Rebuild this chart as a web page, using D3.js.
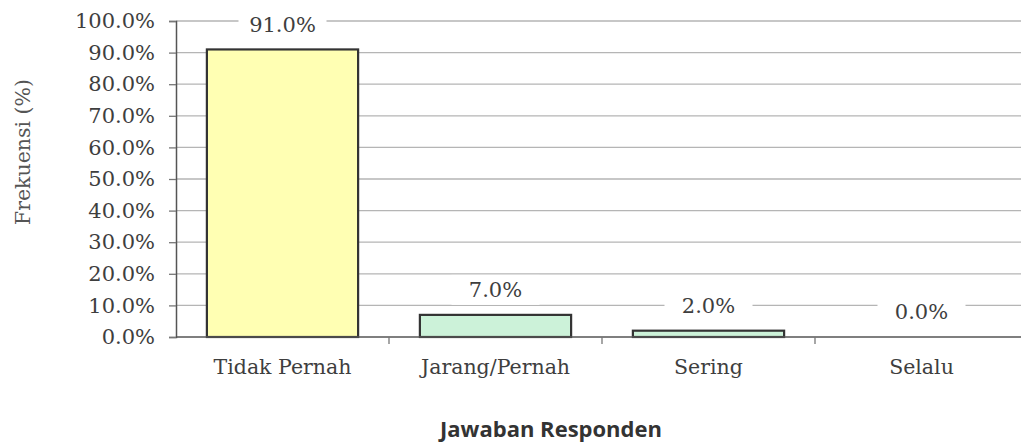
<!DOCTYPE html>
<html>
<head>
<meta charset="utf-8">
<script src="https://cdn.jsdelivr.net/npm/d3@7"></script>
<style>
  html, body { margin: 0; padding: 0; background: #fff; }
  svg { display: block; }
</style>
</head>
<body>
<svg id="chart" width="1021" height="446"></svg>
<script>
const categories = ["Tidak Pernah", "Jarang/Pernah", "Sering", "Selalu"];
const values = [91.0, 7.0, 2.0, 0.0];
const barColors = ["#ffffb3", "#ccf2d9", "#ccf2d9", "#ccf2d9"];
const yTicks = [0, 10, 20, 30, 40, 50, 60, 70, 80, 90, 100];
const yTitle = "Frekuensi (%)";
const xTitle = "Jawaban Responden";

(function () {
const svg = d3.select("#chart");
const pLeft = 176, pRight = 1028, pTop = 21, pBottom = 337;

const x = d3.scaleBand().domain(categories).range([pLeft, pRight])
  .paddingInner(0.29).paddingOuter(0.145);
const y = d3.scaleLinear().domain([0, 100]).range([pBottom, pTop]);

const serif = "'DejaVu Serif', 'Liberation Serif', serif";

// gridlines
svg.append("g").selectAll("line").data(yTicks.filter(d => d > 0)).join("line")
  .attr("x1", pLeft).attr("x2", pRight)
  .attr("y1", d => y(d)).attr("y2", d => y(d))
  .attr("stroke", "#b5b5b5").attr("stroke-width", 1.3);

// y axis
const yAxis = svg.append("g").attr("transform", `translate(${pLeft},0)`)
  .call(d3.axisLeft(y).tickValues(yTicks).tickSize(7).tickPadding(14)
    .tickFormat(d => d.toFixed(1) + "%"));
yAxis.select(".domain").attr("stroke", "#555").attr("stroke-width", 1.5);
yAxis.selectAll(".tick line").attr("stroke", "#777").attr("stroke-width", 1.3);
yAxis.selectAll("text").attr("font-family", serif).attr("font-size", 21)
  .attr("fill", "#3e3e3e");

// bars
svg.append("g").selectAll("rect").data(categories).join("rect")
  .attr("x", d => x(d))
  .attr("y", (d, i) => y(values[i]))
  .attr("width", x.bandwidth())
  .attr("height", (d, i) => pBottom - y(values[i]))
  .attr("fill", (d, i) => barColors[i])
  .attr("stroke", (d, i) => values[i] > 0 ? "#333" : "none")
  .attr("stroke-width", 2.2);

// x axis
const xAxis = svg.append("g").attr("transform", `translate(0,${pBottom})`)
  .call(d3.axisBottom(x).tickSize(0).tickPadding(22));
xAxis.select(".domain").remove();
xAxis.selectAll("text").attr("font-family", serif).attr("font-size", 20.5)
  .attr("fill", "#3e3e3e");
svg.append("line").attr("x1", pLeft).attr("x2", pRight)
  .attr("y1", pBottom).attr("y2", pBottom)
  .attr("stroke", "#555").attr("stroke-width", 1.5);
// category boundary ticks
const step = x.step();
const bounds = categories.slice(1).map(c => x(c) - step * x.paddingInner() / 2);
svg.append("g").selectAll("line").data(bounds).join("line")
  .attr("x1", d => d).attr("x2", d => d)
  .attr("y1", pBottom).attr("y2", pBottom + 7)
  .attr("stroke", "#777").attr("stroke-width", 1.3);

// value labels with white background
const lbl = svg.append("g").selectAll("g").data(categories).join("g")
  .attr("transform", (d, i) => `translate(${x(d) + x.bandwidth() / 2},${y(values[i]) - 25})`);
lbl.append("rect")
  .attr("x", -44).attr("y", -15).attr("width", 88).attr("height", 30)
  .attr("fill", "#fff");
lbl.append("text")
  .attr("text-anchor", "middle").attr("dy", "0.35em")
  .attr("font-family", serif).attr("font-size", 21).attr("fill", "#3e3e3e")
  .text((d, i) => values[i].toFixed(1) + "%");

// titles
svg.append("text")
  .attr("transform", "translate(23,152) rotate(-90)")
  .attr("text-anchor", "middle").attr("dy", "0.35em")
  .attr("font-family", serif).attr("font-size", 20.5).attr("fill", "#555")
  .text(yTitle);
svg.append("text")
  .attr("x", 551).attr("y", 429)
  .attr("text-anchor", "middle").attr("dy", "0.35em")
  .attr("font-family", "'Open Sans', 'DejaVu Sans', sans-serif")
  .attr("font-weight", "bold").attr("font-size", 22).attr("fill", "#333")
  .text(xTitle);
})();
</script>
</body>
</html>
